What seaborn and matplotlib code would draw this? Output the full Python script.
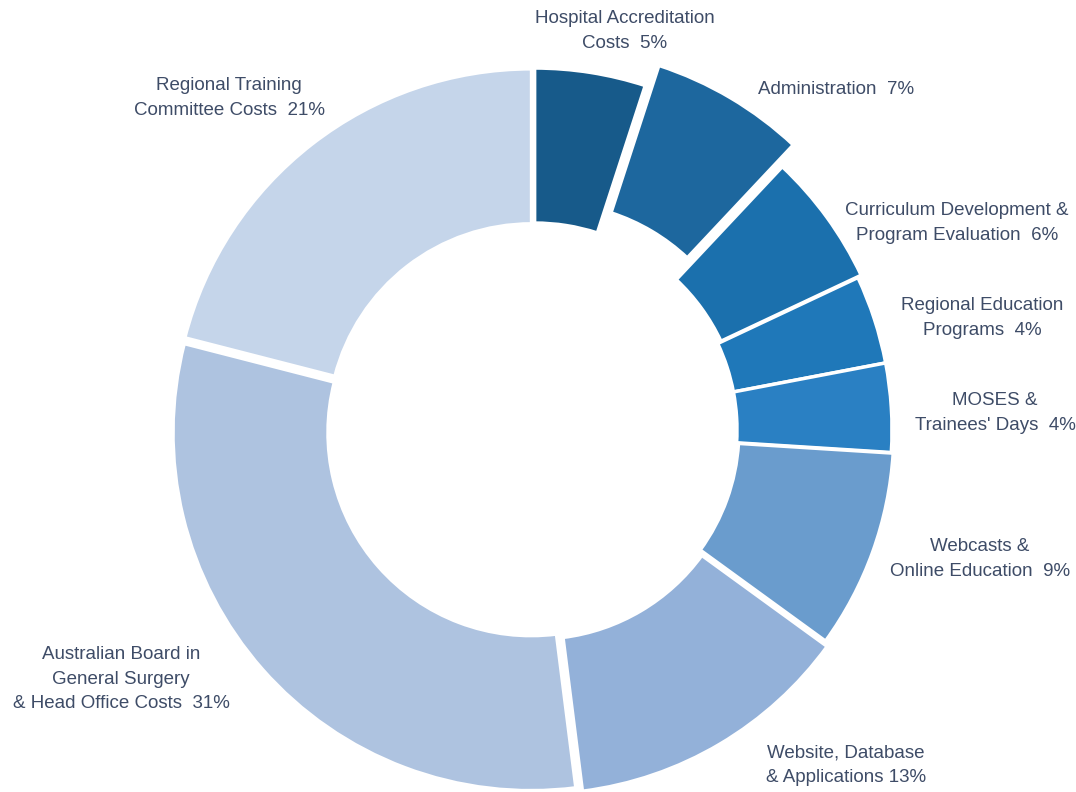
import matplotlib
matplotlib.use("Agg")
import matplotlib.pyplot as plt
import seaborn as sns

# Data
labels = [
    "Hospital Accreditation\nCosts  5%",
    "Administration  7%",
    "Curriculum Development &\nProgram Evaluation  6%",
    "Regional Education\nPrograms  4%",
    "MOSES &\nTrainees' Days  4%",
    "Webcasts &\nOnline Education  9%",
    "Website, Database\n& Applications 13%",
    "Australian Board in\nGeneral Surgery\n& Head Office Costs  31%",
    "Regional Training\nCommittee Costs  21%",
]
shares = [5, 7, 6, 4, 4, 9, 13, 31, 21]
colors = ["#175a8a", "#1d679e", "#1b70ad", "#1f78b9", "#2a80c3",
          "#6a9ccd", "#93b1d9", "#aec3e0", "#c5d5ea"]

# Layout (pixel positions of label centres, top-left origin; offsets in px)
label_pos = [(625, 31), (836, 90), (957, 223), (982, 318), (995, 413),
             (980, 559), (846, 765), (121, 679), (229, 98)]
explode = [4, 28, 4, 0, 0, 2, 7, 4, 4]

W, H = 1076, 792
sns.set_theme(style="white")
plt.rcParams['font.family'] = ['Liberation Sans', 'DejaVu Sans']

fig = plt.figure(figsize=(W / 100, H / 100), dpi=100)
ax = fig.add_axes([0, 0, 1, 1])

ax.pie(shares, colors=colors, startangle=90, counterclock=False,
       center=(534, H - 430), radius=358, explode=explode,
       wedgeprops=dict(width=155, edgecolor='white', linewidth=2.5),
       frame=True)
ax.set_xlim(0, W)
ax.set_ylim(0, H)
ax.set_aspect('equal')
ax.axis('off')

for text, (px, py) in zip(labels, label_pos):
    ax.text(px, H - py, text, ha='center', va='center', multialignment='center',
            fontsize=13.5, color='#3e4c67', linespacing=1.55)

fig.savefig("out.png", dpi=100)
